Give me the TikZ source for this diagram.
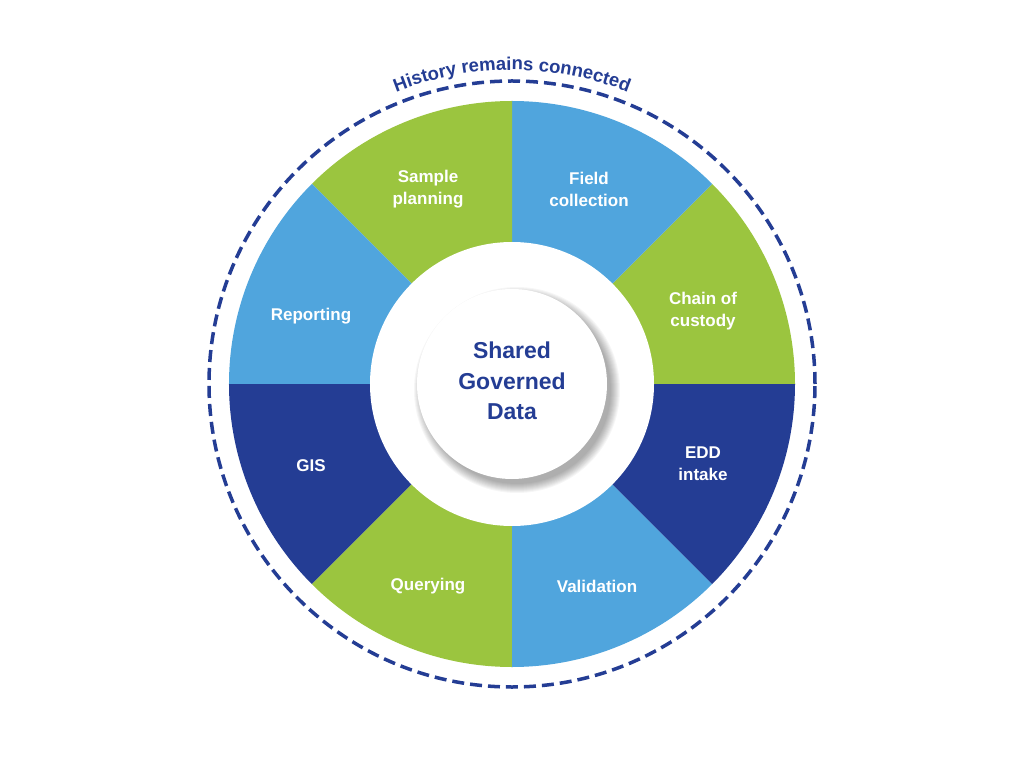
\documentclass[tikz,border=0pt]{standalone}
\usepackage{fontspec}
\setmainfont{Liberation Sans}
\usetikzlibrary{decorations.text}
\definecolor{cgreen}{HTML}{9BC53F}
\definecolor{cblue}{HTML}{50A5DD}
\definecolor{cnavy}{HTML}{243D94}
\begin{document}
\begin{tikzpicture}[x=1pt,y=1pt,
  seglabel/.style={text=white, align=center, font=\bfseries\fontsize{17}{22}\selectfont},
  ringline/.style={draw=cnavy, line width=3.5pt, dash pattern=on 12pt off 6pt}]
\useasboundingbox (-512,-384) rectangle (512,384);
\fill[white] (-512,-384) rectangle (512,384);
% sectors
\foreach \a/\c in {0/cgreen,45/cblue,90/cgreen,135/cblue,180/cnavy,225/cgreen,270/cblue,315/cnavy}{
  \fill[\c] (0,0) -- (\a:283) arc[start angle=\a, delta angle=45, radius=283] -- cycle;
}
% white ring
\node[circle, fill=white, minimum size=284pt, inner sep=0pt] (ring) at (0,0) {};
% soft shadow
\foreach \r in {94,95,...,103}{
  \fill[black, opacity=0.035] (5,-6) circle[radius=\r];
}
% centre disk
\node[circle, fill=white, minimum size=190pt, inner sep=0pt] (core) at (0,0) {};
\node[text=cnavy, align=center, font=\bfseries\fontsize{23}{30.5}\selectfont] (coretext) at (0,3) {Shared\\Governed\\Data};
% labels
\node[seglabel] (chain) at (191,73) {Chain of\\custody};
\node[seglabel] (field) at (77,195) {Field\\collection};
\node[seglabel] (sample) at (-84,195) {Sample\\planning};
\node[seglabel] (report) at (-201,68) {Reporting};
\node[seglabel] (gis) at (-201,-82) {GIS};
\node[seglabel] (query) at (-84,-202) {Querying};
\node[seglabel] (valid) at (85,-202) {Validation};
\node[seglabel] (edd) at (191,-80) {EDD\\intake};
% dashed outer ring
\draw[ringline] (0,0) circle[radius=303];
% title along arc
\path[decorate, decoration={text along path, text align=center,
  text={|\bfseries\fontsize{18.5}{18.5}\selectfont\color{cnavy}|History remains connected}}]
  (140:314) arc[start angle=140, end angle=40, radius=314];
\end{tikzpicture}
\end{document}
